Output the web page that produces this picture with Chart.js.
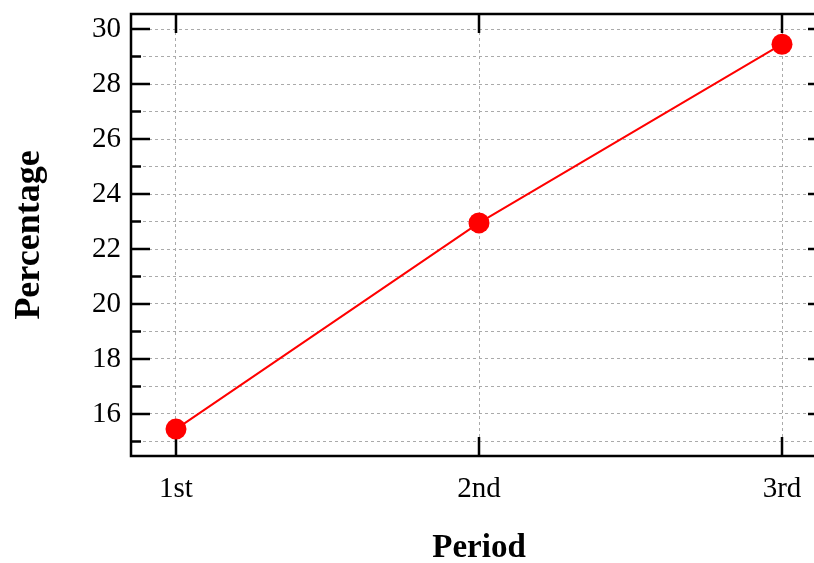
<!DOCTYPE html>
<html>
<head>
<meta charset="utf-8">
<script src="https://cdn.jsdelivr.net/npm/chart.js@4.4.1/dist/chart.umd.min.js"></script>
<style>
  html, body { margin: 0; padding: 0; overflow: hidden; background: #fff; }
  #wrap { width: 840px; height: 563px; }
</style>
</head>
<body>
<div id="wrap"><canvas id="chart" width="840" height="563"></canvas></div>
<script>
// data
var periods = ['1st', '2nd', '3rd'];
var percentage = [15.45, 22.95, 29.45];
var yMajorTicks = [16, 18, 20, 22, 24, 26, 28, 30];
var yMinorTicks = [15, 17, 19, 21, 23, 25, 27, 29];

var serif = "'Liberation Serif', 'Times New Roman', serif";

// frame and inward tick marks
var frameTicks = {
    id: 'frameTicks',
    beforeDatasetsDraw: function(chart) {
        var ctx = chart.ctx, a = chart.chartArea;
        var xs = chart.scales.x, ys = chart.scales.y;
        ctx.save();
        ctx.strokeStyle = '#000';
        ctx.lineWidth = 2.5;
        ctx.beginPath();
        yMajorTicks.concat(yMinorTicks).forEach(function(v) {
            var y = ys.getPixelForValue(v);
            var len = yMajorTicks.indexOf(v) >= 0 ? 19 : 10;
            ctx.moveTo(a.left, y); ctx.lineTo(a.left + len, y);
            ctx.moveTo(a.right, y); ctx.lineTo(a.right - len, y);
        });
        periods.forEach(function(p, i) {
            var x = xs.getPixelForValue(i);
            ctx.moveTo(x, a.top); ctx.lineTo(x, a.top + 19);
            ctx.moveTo(x, a.bottom); ctx.lineTo(x, a.bottom - 19);
        });
        ctx.stroke();
        ctx.strokeRect(a.left, a.top, a.right - a.left, a.bottom - a.top);
        ctx.restore();
    }
};

var ctx = document.getElementById('chart').getContext('2d');
new Chart(ctx, {
    type: 'line',
    data: {
        datasets: [{
            data: percentage.map(function(v, i) { return { x: i, y: v }; }),
            borderColor: '#ff0000',
            backgroundColor: '#ff0000',
            borderWidth: 2,
            pointRadius: 10.5,
            pointHoverRadius: 10.5,
            pointBorderWidth: 0,
            tension: 0
        }]
    },
    plugins: [frameTicks],
    options: {
        responsive: false,
        animation: false,
        layout: { padding: { top: 14, right: 13, left: 0, bottom: 0 } },
        plugins: { legend: { display: false }, tooltip: { enabled: false } },
        scales: {
            x: {
                type: 'linear',
                min: -0.1485,
                max: 2.1485,
                afterBuildTicks: function(s) {
                    s.ticks = periods.map(function(p, i) { return { value: i }; });
                },
                afterFit: function(s) {
                    s.height = 107;
                    s.paddingLeft = 0;
                    s.paddingRight = 0;
                },
                ticks: {
                    callback: function(v) { return periods[v]; },
                    color: '#000',
                    font: { family: serif, size: 29 },
                    padding: 16,
                    maxRotation: 0,
                    autoSkip: false
                },
                grid: {
                    color: '#aaa',
                    lineWidth: 1,
                    drawTicks: false
                },
                border: { display: false, dash: [3, 3] },
                title: {
                    display: true,
                    text: 'Period',
                    color: '#000',
                    font: { family: serif, size: 33, weight: 'bold', lineHeight: 0.9 },
                    padding: { top: 0, bottom: 0 }
                }
            },
            y: {
                type: 'linear',
                min: 14.47,
                max: 30.55,
                afterBuildTicks: function(s) {
                    s.ticks = yMinorTicks.concat(yMajorTicks).sort(function(a, b) { return a - b; })
                        .map(function(v) { return { value: v }; });
                },
                afterFit: function(s) {
                    s.width = 131;
                    s.paddingTop = 0;
                    s.paddingBottom = 0;
                },
                ticks: {
                    callback: function(v) { return yMajorTicks.indexOf(v) >= 0 ? v : ''; },
                    color: '#000',
                    font: { family: serif, size: 29 },
                    padding: 10,
                    autoSkip: false
                },
                grid: {
                    color: '#aaa',
                    lineWidth: 1,
                    drawTicks: false
                },
                border: { display: false, dash: [3, 3] },
                title: {
                    display: true,
                    text: 'Percentage',
                    color: '#000',
                    font: { family: serif, size: 36, weight: 'bold', lineHeight: 1 },
                    padding: { top: 12, bottom: 0 }
                }
            }
        }
    }
});
</script>
</body>
</html>
